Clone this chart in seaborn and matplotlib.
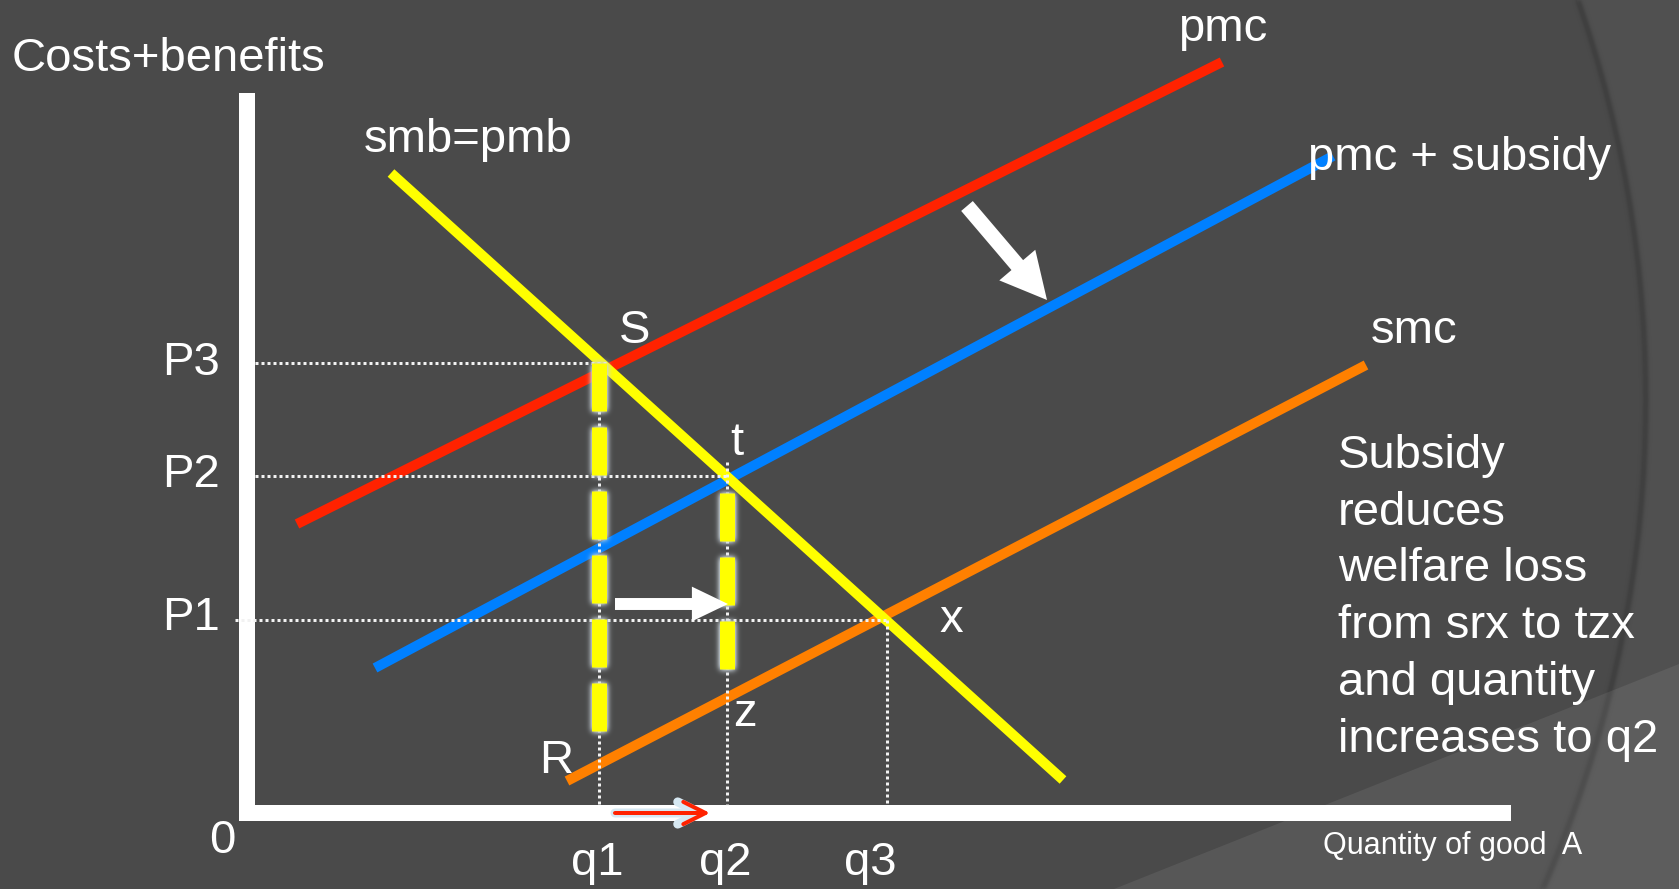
import numpy as np
import pandas as pd
import matplotlib
matplotlib.use("Agg")
import matplotlib.pyplot as plt
from matplotlib import patches
from matplotlib.patches import ArrowStyle
import seaborn as sns

# ---- diagram values (origin at the corner of the axes) ----
q_levels = [352, 480, 640]
q_labels = ["q1", "q2", "q3"]
q_label_x = [350, 478, 623]

p_levels = [450, 337, 193]
p_labels = ["P3", "P2", "P1"]

curve_names = ["pmc", "pmc + subsidy", "smc", "smb=pmb"]
curve_x = [[50, 975], [128, 1086], [320, 1119], [144, 816]]
curve_y = [[289, 751], [145, 657], [32, 448], [640, 33]]
curve_colors = ["#ff2200", "#0080ff", "#ff8000", "#ffff00"]

# vertical extent of the dashed welfare-loss bars at q1 and q2
band_x = [352, 480]
band_top = [450, 320]
band_bottom = [82, 144]

point_labels = ["S", "t", "x", "z", "R"]
point_label_x = [372, 483, 692, 486, 292]
point_label_y = [470, 358, 181, 87, 40]

note_lines = ["Subsidy", "reduces", "welfare loss", "from srx to tzx",
              "and quantity", "increases to q2"]

BG = "#4a4a4a"
W, H = 1679, 889
X0, Y0 = 247, 813          # pixel position of the origin


class Glow:
    """agg_filter: replaces an artist by a blurred halo of one colour."""

    def __init__(self, sigma, color, strength=1.0):
        self.sigma = sigma
        self.rgb = np.array(matplotlib.colors.to_rgb(color))
        self.strength = strength

    def _conv(self, a, k, axis):
        n = len(k) // 2
        pad = [(n, n) if ax == axis else (0, 0) for ax in range(a.ndim)]
        p = np.pad(a, pad)
        out = np.zeros_like(a)
        for i, w in enumerate(k):
            sl = [slice(None)] * a.ndim
            sl[axis] = slice(i, i + a.shape[axis])
            out += w * p[tuple(sl)]
        return out

    def __call__(self, im, dpi):
        s = self.sigma * dpi / 100.0
        pad = int(np.ceil(3 * s))
        a = np.pad(im[..., 3], pad)
        xs = np.arange(-pad, pad + 1)
        k = np.exp(-0.5 * (xs / s) ** 2)
        k /= k.sum()
        a = self._conv(self._conv(a, k, 0), k, 1)
        out = np.empty(a.shape + (4,))
        out[..., :3] = self.rgb
        out[..., 3] = np.clip(a * self.strength, 0, 1)
        return out, -pad, -pad


sns.set_style("dark", {"axes.facecolor": BG, "figure.facecolor": BG})
plt.rcParams["font.family"] = ["Liberation Sans", "DejaVu Sans"]
plt.rcParams["lines.scale_dashes"] = False

fig = plt.figure(figsize=(W / 100, H / 100), dpi=100)
ax = fig.add_axes([0, 0, 1, 1])
ax.set_xlim(-X0, W - X0)
ax.set_ylim(Y0 - H, Y0)
ax.set_axis_off()

PX = 0.72  # points per pixel at 100 dpi

# ---- slide background decoration ----
ax.add_patch(patches.Rectangle((-X0, Y0 - H), W, H, color="#505050", zorder=0))
ax.add_patch(patches.Circle((187, 413), 1210, color=BG, zorder=0.1))
rim = patches.Circle((187, 413), 1212, fill=False, ec="#353535", lw=4 * PX, zorder=0.2)
rim.set_agg_filter(Glow(2.0, "#363636", 0.9))
ax.add_patch(rim)
ax.add_patch(patches.Polygon([(867, Y0 - H), (W - X0, 149), (W - X0, Y0 - H)],
                             closed=True, color="white", alpha=0.075, lw=0, zorder=0.3))

# ---- axes bars ----
ax.plot([0, 0], [-8, 720], color="white", lw=16 * PX, solid_capstyle="butt", zorder=2)
ax.plot([-8, 1264], [0, 0], color="white", lw=16 * PX, solid_capstyle="butt", zorder=2)

# ---- dotted guide lines ----
dot = dict(color="#f2f2f2", lw=3 * PX, linestyle=(0, (3 * PX, 3 * PX)), zorder=3.5)
h_end = [q_levels[0] + 8, q_levels[1], q_levels[2]]
h_start = [8, 8, -12]
for p, x0, x1 in zip(p_levels, h_start, h_end):
    ax.plot([x0, x1], [p, p], **dot)
v_top = [p_levels[0], 351, p_levels[2]]
for q, top in zip(q_levels, v_top):
    ax.plot([q, q], [top, 8], **dot)

# ---- cost and benefit curves ----
rows = []
for name, xs, ys in zip(curve_names, curve_x, curve_y):
    for x, y in zip(xs, ys):
        rows.append({"curve": name, "quantity": x, "value": y})
df = pd.DataFrame(rows)
sns.lineplot(data=df, x="quantity", y="value", hue="curve",
             palette=dict(zip(curve_names, curve_colors)),
             estimator=None, sort=False, legend=False,
             linewidth=10 * PX, solid_capstyle="butt", zorder=3, ax=ax)
ax.set_xlabel("")
ax.set_ylabel("")

# ---- dashed bars with a soft halo ----
dash = (0, (48 * PX, 16 * PX))
for x, top, bot in zip(band_x, band_top, band_bottom):
    halo, = ax.plot([x, x], [top, bot], color="white", lw=15 * PX,
                    linestyle=dash, dash_capstyle="butt", zorder=4.5)
    halo.set_agg_filter(Glow(3.0, "#c9d3da", 1.8))
    ax.plot([x, x], [top, bot], color="#ffff00", lw=15 * PX,
            linestyle=dash, dash_capstyle="butt", zorder=5)

# ---- arrows ----
ax.annotate("", xy=(481, 209), xytext=(368, 209),
            arrowprops=dict(arrowstyle=ArrowStyle.Simple(head_length=26, head_width=25,
                                                         tail_width=8.6),
                            mutation_scale=1, fc="white", ec="none",
                            shrinkA=0, shrinkB=0), zorder=6)
ax.annotate("", xy=(800, 513), xytext=(720, 607),
            arrowprops=dict(arrowstyle=ArrowStyle.Simple(head_length=33, head_width=34,
                                                         tail_width=11),
                            mutation_scale=1, fc="white", ec="none",
                            shrinkA=0, shrinkB=0), zorder=6)
red_glow = ax.annotate("", xy=(463, 0), xytext=(368, 0),
                       arrowprops=dict(arrowstyle="->,head_length=16,head_width=8",
                                       mutation_scale=1, color="#d6e8f2", lw=9 * PX,
                                       shrinkA=0, shrinkB=0), zorder=5.5)
red_glow.arrow_patch.set_agg_filter(Glow(4.0, "#d6e8f2", 1.6))
ax.annotate("", xy=(463, 0), xytext=(368, 0),
            arrowprops=dict(arrowstyle="->,head_length=16,head_width=8",
                            mutation_scale=1, color="#ff2200", lw=4 * PX,
                            shrinkA=0, shrinkB=0), zorder=6)

# ---- text ----
txt = dict(color="white", fontsize=34, va="baseline", zorder=7)
ax.text(-235, 742, "Costs+benefits", ha="left", **txt)
ax.text(117, 661, "smb=pmb", ha="left", **txt)
ax.text(931, 772, "pmc", ha="left", **txt)
ax.text(1061, 643, "pmc + subsidy", ha="left", **txt)
ax.text(1124, 470, "smc", ha="left", **txt)
for lab, x, y in zip(point_labels, point_label_x, point_label_y):
    ax.text(x, y, lab, ha="left", **txt)
p_label_base = [438, 326, 183]
for lab, y in zip(p_labels, p_label_base):
    ax.text(-85, y, lab, ha="left", **txt)
for lab, x in zip(q_labels, q_label_x):
    ax.text(x, -62, lab, ha="center", **txt)
ax.text(-38, -40, "0", ha="left", **txt)

# explanatory note, one baseline every 56.7 px
note_first_baseline = 345
note_step = 56.7
for i, line in enumerate(note_lines):
    ax.text(1091, note_first_baseline - i * note_step, line, ha="left", **txt)

ax.text(1076, -41, "Quantity of good  A", ha="left", color="white",
        fontsize=22, va="baseline", zorder=7)

fig.savefig("out.png", dpi=100, facecolor=BG)
